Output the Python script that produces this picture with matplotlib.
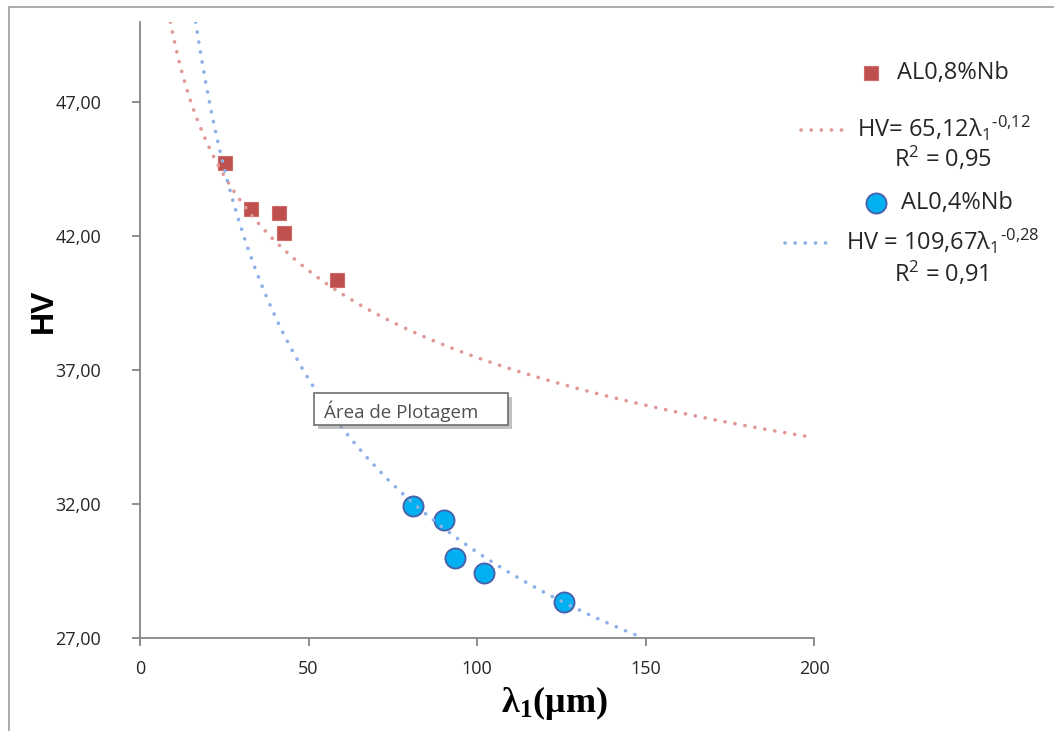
import numpy as np
import matplotlib
matplotlib.use("Agg")
import matplotlib.pyplot as plt
from matplotlib.patches import Rectangle
from matplotlib.lines import Line2D
from matplotlib.ticker import FuncFormatter, FixedLocator

plt.rcParams['mathtext.default'] = 'regular'

# Measured spacing and hardness, two alloys
lam_08 = [25.2, 32.9, 41.2, 42.7, 58.5]
hv_08 = [44.72, 43.00, 42.86, 42.11, 40.36]

lam_04 = [81.0, 90.2, 93.5, 102.1, 125.8]
hv_04 = [31.93, 31.40, 29.99, 29.43, 28.34]

# Power-law trend lines HV = a * lambda^b
fit_08 = (65.12, -0.12)
fit_04 = (109.67, -0.28)

x_ticks = [0, 50, 100, 150, 200]
y_ticks = [27, 32, 37, 42, 47]

W, H = 1054, 731
fig = plt.figure(figsize=(W / 100, H / 100), dpi=100)


def fx(px):
    return px / W


def fy(py):
    return 1 - py / H


ax = fig.add_axes([fx(140), fy(638), fx(814) - fx(140), fy(22) - fy(638)])
ax.set_xlim(0, 200)
ax.set_ylim(27, 50)

red_fill = '#C0504D'
red_line = '#E09896'
blue_fill = '#00B0F0'
blue_edge = '#4A5FA8'
blue_line = '#8DB0E8'
axis_gray = '#868686'
text_col = '#262626'

dot_style = dict(lw=2.6, dashes=(0.05, 2.75), dash_capstyle='round')

# data points
ax.plot(lam_08, hv_08, ls='none', marker='s', ms=10.5, mfc=red_fill,
        mec='#D06A67', mew=0.8, zorder=2)
ax.plot(lam_04, hv_04, ls='none', marker='o', ms=14.5, mfc=blue_fill,
        mec=blue_edge, mew=1.3, zorder=2)

# trend curves, drawn over the markers
a, b = fit_08
x_start = (50 / a) ** (1 / b)
xs = np.linspace(x_start, 198, 400)
ax.plot(xs, a * xs ** b, color=red_line, **dot_style, zorder=3)

a, b = fit_04
x_start = (50 / a) ** (1 / b)
x_end = (27 / a) ** (1 / b)
xs = np.linspace(x_start, x_end, 400)
ax.plot(xs, a * xs ** b, color=blue_line, **dot_style, zorder=3)

# axes styling
for side in ('top', 'right'):
    ax.spines[side].set_visible(False)
for side in ('left', 'bottom'):
    ax.spines[side].set_color(axis_gray)
    ax.spines[side].set_linewidth(1.3)

ax.xaxis.set_major_locator(FixedLocator(x_ticks))
ax.yaxis.set_major_locator(FixedLocator(y_ticks))
ax.yaxis.set_major_formatter(FuncFormatter(lambda v, p: f"{v:.2f}".replace('.', ',')))
ax.tick_params(axis='both', direction='out', length=6, width=1.3, color=axis_gray,
               labelsize=13, labelcolor=text_col)
ax.tick_params(axis='x', pad=10)
ax.tick_params(axis='y', pad=22)
for lab in ax.get_xticklabels() + ax.get_yticklabels():
    lab.set_family('Open Sans')

# axis titles
fig.text(fx(44), fy(311), 'HV', rotation=90, ha='center', va='center',
         fontsize=23, fontweight='bold', family='Liberation Sans', color='black')
fig.text(fx(554), fy(703), r'λ$_1$(μm)', ha='center', va='center',
         fontsize=26, fontweight='bold', family='Liberation Serif', color='black')

# legend entries
leg_font = dict(family='Open Sans', fontsize=17, color=text_col, va='center', ha='left')
fig.add_artist(Line2D([fx(871)], [fy(73)], ls='none', marker='s', ms=10.5,
                      mfc=red_fill, mec='#D06A67', mew=0.8))
fig.text(fx(897), fy(73), 'AL0,8%Nb', **leg_font)

fig.add_artist(Line2D([fx(801), fx(848)], [fy(130), fy(130)], color=red_line, **dot_style))
fig.text(fx(857), fy(128), 'HV= 65,12λ$_1$$^{\u20100{,}12}$', **leg_font)
fig.text(fx(894), fy(159), r'R$^2$ = 0,95', **leg_font)

fig.add_artist(Line2D([fx(876)], [fy(203)], ls='none', marker='o', ms=14.5,
                      mfc=blue_fill, mec=blue_edge, mew=1.3))
fig.text(fx(901), fy(203), 'AL0,4%Nb', **leg_font)

fig.add_artist(Line2D([fx(785), fx(831)], [fy(243), fy(243)], color=blue_line, **dot_style))
fig.text(fx(846), fy(241), 'HV = 109,67λ$_1$$^{\u20100{,}28}$', **leg_font)
fig.text(fx(894), fy(274), r'R$^2$ = 0,91', **leg_font)

# hover label box
fig.add_artist(Rectangle((fx(318), fy(429)), fx(194), fy(0) - fy(32),
                         facecolor='#9a9a9a', edgecolor='none', alpha=0.6, zorder=5))
fig.add_artist(Rectangle((fx(314), fy(425)), fx(194), fy(0) - fy(32),
                         facecolor='white', edgecolor='#707070', lw=1.2, zorder=6))
fig.text(fx(324), fy(411), 'Área de Plotagem', family='Open Sans', fontsize=13.5,
         color='#505050', va='center', ha='left', zorder=7)

# outer chart frame
fig.add_artist(Line2D([fx(9), fx(9)], [fy(7), 0], color='#A6A6A6', lw=1.3))
fig.add_artist(Line2D([fx(9), 1], [fy(7), fy(7)], color='#A6A6A6', lw=1.3))

fig.savefig('out.png', dpi=100)
